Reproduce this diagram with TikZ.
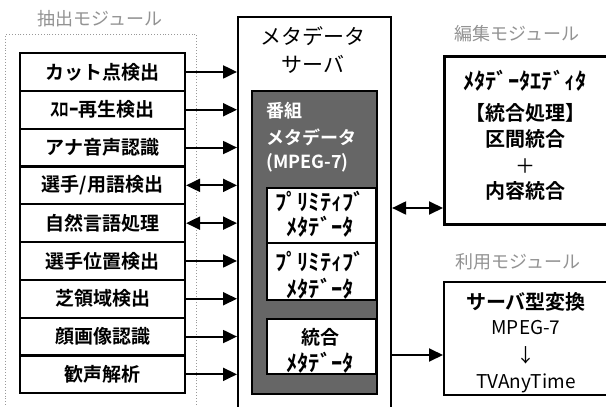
\documentclass[tikz,border=0pt]{standalone}
\usepackage{fontspec}
\setmainfont{Noto Sans CJK JP}[BoldFont={Noto Sans CJK JP Bold}]
\usetikzlibrary{arrows.meta}
\begin{document}
\begin{tikzpicture}[x=1pt,y=-1pt,
  box/.style={draw, line width=2.1pt, inner sep=0, anchor=north west},
  lab/.style={inner sep=0, font=\bfseries\fontsize{19}{19}\selectfont},
  txt/.style={inner sep=0, font=\bfseries\fontsize{19}{19}\selectfont},
  htxt/.style={inner sep=0, font=\bfseries\fontsize{22.5}{22}\selectfont},
  rtxt/.style={inner sep=0, font=\fontsize{19}{19}\selectfont},
  mod/.style={inner sep=0, text=gray!85, font=\fontsize{18}{18}\selectfont},
  arr/.style={line width=2pt, -{Triangle[length=14pt,width=13pt]}},
  darr/.style={line width=2pt, {Triangle[length=14pt,width=13pt]}-{Triangle[length=14pt,width=13pt]}},
]
\useasboundingbox (0,0) rectangle (606,407);
\fill[white] (0,0) rectangle (606,407);

% extraction module group
\node[draw, dotted, gray!80, line width=0.9pt, anchor=north west, minimum width=191pt, minimum height=385pt, inner sep=0] (grp) at (5,34) {};
\node[mod] (mext) at (100,19) {抽出モジュール};

\foreach \t [count=\i] in {カット点検出, ｽﾛｰ再生検出, アナ音声認識, 選手/用語検出, 自然言語処理, 選手位置検出, 芝領域検出, 顔画像認識, 歓声解析} {
  \node[box, lab, minimum width=165pt, minimum height=37.8pt] (b\i) at (19, {52+(\i-1)*37.8}) {\t};
}

% metadata server
\node[box, minimum width=153pt, minimum height=400pt] (srv) at (237,16) {};
\node[inner sep=0, font=\fontsize{21}{21}\selectfont] (st1) at (313,36) {メタデータ};
\node[inner sep=0, font=\fontsize{21}{21}\selectfont] (st2) at (313,64) {サーバ};

% shaded program metadata
\node[box, fill=black!60, minimum width=125pt, minimum height=303pt] (sh) at (251,90) {};
\node[txt, text=white, anchor=west, font=\bfseries\fontsize{18}{18}\selectfont] (sh1) at (266,111) {番組};
\node[txt, text=white, anchor=west, font=\bfseries\fontsize{18}{18}\selectfont] (sh2) at (266,137) {メタデータ};
\node[txt, text=white, anchor=west, font=\bfseries\fontsize{18}{18}\selectfont] (sh3) at (266,163) {(MPEG-7)};

\node[box, fill=white, minimum width=109pt, minimum height=55pt] (p1) at (266,187) {};
\node[box, fill=white, minimum width=109pt, minimum height=57pt] (p2) at (266,242) {};
\node[box, fill=white, minimum width=109pt, minimum height=55pt] (p3) at (266,318) {};
\node[htxt] (p1a) at (320,201) {ﾌﾟﾘﾐﾃｨﾌﾞ};
\node[htxt] (p1b) at (320,227) {ﾒﾀﾃﾞｰﾀ};
\node[htxt] (p2a) at (320,261) {ﾌﾟﾘﾐﾃｨﾌﾞ};
\node[htxt] (p2b) at (320,289) {ﾒﾀﾃﾞｰﾀ};
\node[txt] (p3a) at (320,337) {統合};
\node[htxt] (p3b) at (320,363) {ﾒﾀﾃﾞｰﾀ};

% arrows from extraction modules
\foreach \i in {1,2,3,6,7,8,9} {
  \draw[arr] (b\i.east) -- (b\i.east -| srv.west);
}
\foreach \i in {4,5} {
  \draw[darr] (b\i.east) -- (b\i.east -| srv.west);
}

% editing module
\node[mod] (med) at (517,34) {編集モジュール};
\node[draw, line width=3pt, anchor=north west, minimum width=175pt, minimum height=168pt, inner sep=0] (ed) at (443,55) {};
\node[htxt] (e1) at (525,81) {ﾒﾀﾃﾞｰﾀｴﾃﾞｨﾀ};
\node[txt, font=\bfseries\fontsize{20}{20}\selectfont] (e2) at (525,113) {【統合処理】};
\node[txt, font=\bfseries\fontsize{20}{20}\selectfont] (e3) at (525,139) {区間統合};
\node[rtxt, font=\fontsize{20}{20}\selectfont] (e4) at (525,166) {＋};
\node[txt, font=\bfseries\fontsize{20}{20}\selectfont] (e5) at (525,191) {内容統合};

% usage module
\node[mod] (mus) at (518,262) {利用モジュール};
\node[draw, line width=2.1pt, anchor=north west, minimum width=175pt, minimum height=113pt, inner sep=0] (us) at (443,281) {};
\node[txt, font=\bfseries\fontsize{20}{20}\selectfont] (u1) at (526,302) {サーバ型変換};
\node[rtxt] (u2) at (526,328) {MPEG-7};
\node[rtxt] (u3) at (526,355) {↓};
\node[rtxt] (u4) at (526,383) {TVAnyTime};

% server connections
\coordinate (ea) at (443,208);
\coordinate (ua) at (443,355);
\draw[darr] (srv.east |- ea) -- (ed.west |- ea);
\draw[arr] (srv.east |- ua) -- (us.west |- ua);
\end{tikzpicture}
\end{document}
